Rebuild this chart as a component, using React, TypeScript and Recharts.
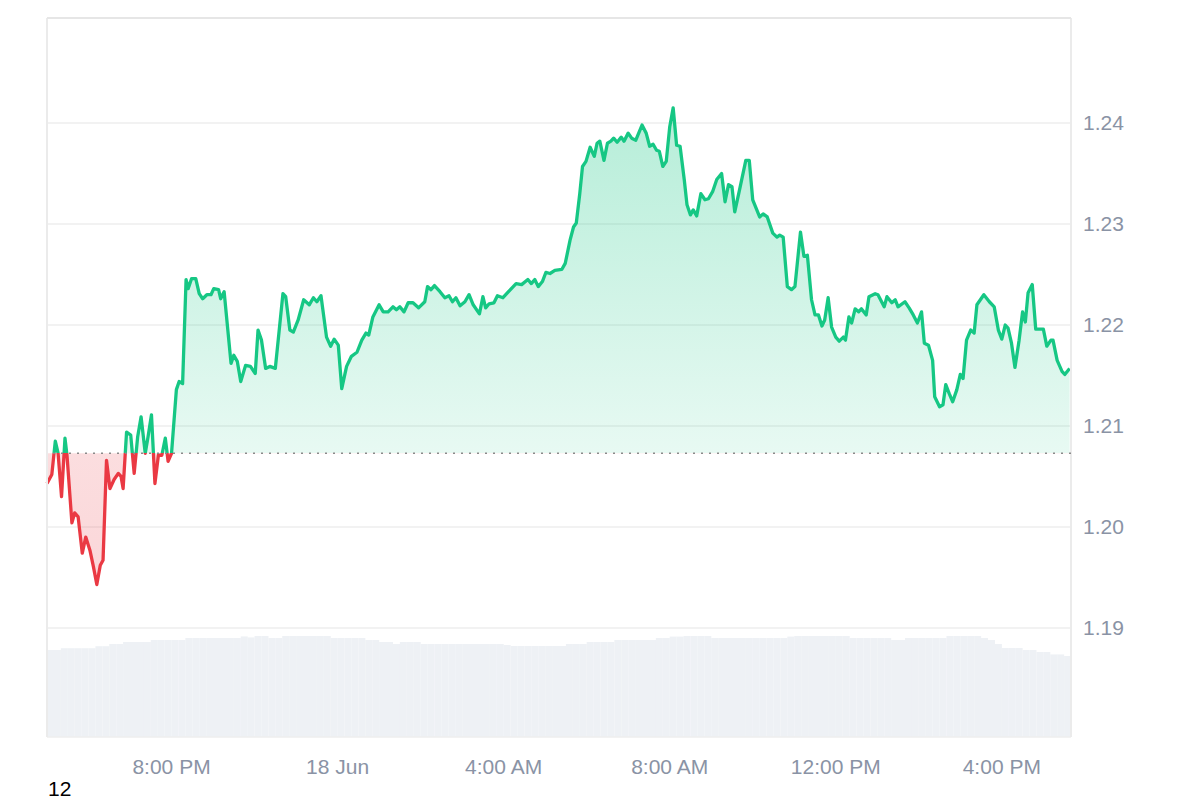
import React from 'react';
import { AreaChart, Area, BarChart, Bar, XAxis, YAxis, CartesianGrid, ReferenceLine } from 'recharts';

// minutes since 17:00 on 17 Jun
const times = [
  0, 7, 12, 16, 21, 26, 29, 36, 40, 45, 51, 56, 62, 67, 72, 77, 81, 86, 91, 97,
  103, 107, 110, 115, 121, 126, 131, 136, 142, 146, 151, 156, 161, 166, 171, 175, 180, 187, 191, 196,
  201, 204, 209, 215, 220, 225, 231, 237, 241, 248, 251, 256, 266, 270, 275, 280, 287, 294, 301, 305,
  310, 316, 322, 330, 341, 345, 351, 356, 363, 371, 379, 385, 390, 396, 404, 410, 415, 421, 426, 433,
  440, 448, 455, 461, 465, 471, 480, 486, 493, 500, 505, 510, 516, 522, 529, 537, 546, 550, 555, 560,
  568, 575, 581, 586, 591, 597, 604, 610, 616, 625, 630, 634, 639, 646, 651, 659, 667, 678, 686, 695,
  700, 705, 710, 716, 721, 727, 734, 744, 749, 756, 761, 765, 770, 774, 779, 785, 791, 795, 799, 805,
  810, 815, 819, 824, 830, 834, 840, 845, 851, 860, 866, 871, 876, 881, 885, 890, 895, 900, 905, 910,
  915, 921, 925, 930, 934, 939, 945, 951, 956, 962, 968, 975, 980, 985, 990, 994, 1001, 1010, 1015, 1020,
  1030, 1035, 1041, 1049, 1055, 1059, 1064, 1070, 1076, 1081, 1089, 1094, 1099, 1105, 1110, 1115, 1120, 1124, 1129, 1134,
  1140, 1145, 1151, 1154, 1159, 1163, 1168, 1173, 1177, 1184, 1188, 1197, 1201, 1210, 1214, 1221, 1226, 1230, 1240, 1246,
  1252, 1258, 1264, 1268, 1274, 1280, 1283, 1290, 1295, 1299, 1304, 1309, 1315, 1320, 1324, 1329, 1335, 1340, 1344, 1354,
  1362, 1369, 1375, 1380, 1385, 1389, 1394, 1399, 1405, 1410, 1414, 1418, 1424, 1429, 1440, 1445, 1451, 1454, 1460, 1467,
  1471, 1478,
];

const prices = [
  1.2043, 1.2052, 1.2085, 1.2073, 1.2030, 1.2088, 1.2070, 1.2004, 1.2014, 1.2010, 1.1974, 1.1990, 1.1977, 1.1961, 1.1943, 1.1962, 1.1967, 1.2066, 1.2038, 1.2047,
  1.2053, 1.2050, 1.2038, 1.2094, 1.2091, 1.2053, 1.2089, 1.2109, 1.2073, 1.2089, 1.2111, 1.2043, 1.2071, 1.2071, 1.2088, 1.2065, 1.2073, 1.2136, 1.2144, 1.2142,
  1.2245, 1.2236, 1.2246, 1.2246, 1.2231, 1.2226, 1.2230, 1.2230, 1.2236, 1.2235, 1.2226, 1.2233, 1.2162, 1.2170, 1.2164, 1.2144, 1.2160, 1.2159, 1.2152, 1.2195,
  1.2185, 1.2157, 1.2159, 1.2157, 1.2231, 1.2228, 1.2195, 1.2193, 1.2205, 1.2225, 1.2220, 1.2227, 1.2223, 1.2229, 1.2188, 1.2179, 1.2186, 1.2180, 1.2137, 1.2159,
  1.2169, 1.2173, 1.2185, 1.2192, 1.2190, 1.2208, 1.2220, 1.2213, 1.2213, 1.2218, 1.2215, 1.2218, 1.2213, 1.2222, 1.2222, 1.2217, 1.2223, 1.2238, 1.2235, 1.2239,
  1.2233, 1.2227, 1.2229, 1.2223, 1.2227, 1.2219, 1.2223, 1.2230, 1.2220, 1.2211, 1.2228, 1.2217, 1.2221, 1.2222, 1.2229, 1.2227, 1.2233, 1.2241, 1.2240, 1.2245,
  1.2241, 1.2245, 1.2238, 1.2243, 1.2252, 1.2251, 1.2254, 1.2255, 1.2261, 1.2284, 1.2297, 1.2301, 1.2330, 1.2357, 1.2362, 1.2376, 1.2367, 1.2380, 1.2382, 1.2363,
  1.2380, 1.2382, 1.2385, 1.2381, 1.2386, 1.2382, 1.2390, 1.2385, 1.2383, 1.2398, 1.2390, 1.2377, 1.2379, 1.2373, 1.2372, 1.2357, 1.2362, 1.2396, 1.2415, 1.2378,
  1.2377, 1.2344, 1.2319, 1.2309, 1.2314, 1.2308, 1.2330, 1.2324, 1.2325, 1.2332, 1.2344, 1.2350, 1.2322, 1.2339, 1.2337, 1.2312, 1.2334, 1.2363, 1.2363, 1.2324,
  1.2307, 1.2310, 1.2307, 1.2291, 1.2287, 1.2289, 1.2287, 1.2238, 1.2235, 1.2238, 1.2292, 1.2268, 1.2269, 1.2225, 1.2210, 1.2210, 1.2199, 1.2205, 1.2227, 1.2198,
  1.2188, 1.2184, 1.2188, 1.2185, 1.2208, 1.2202, 1.2216, 1.2213, 1.2216, 1.2210, 1.2228, 1.2231, 1.2230, 1.2218, 1.2228, 1.2222, 1.2225, 1.2218, 1.2223, 1.2217,
  1.2210, 1.2202, 1.2213, 1.2182, 1.2180, 1.2165, 1.2129, 1.2119, 1.2121, 1.2141, 1.2132, 1.2124, 1.2136, 1.2151, 1.2147, 1.2185, 1.2195, 1.2192, 1.2220, 1.2230,
  1.2223, 1.2218, 1.2195, 1.2186, 1.2200, 1.2197, 1.2182, 1.2158, 1.2185, 1.2213, 1.2203, 1.2232, 1.2240, 1.2196, 1.2196, 1.2179, 1.2185, 1.2185, 1.2165, 1.2154,
  1.2151, 1.2157,
];

// 10-minute volume slots, millions
const volumes = [
  43.5, 43.5, 44.4, 44.4, 44.4, 44.4, 44.4, 45.4, 45.4, 46.5, 46.5, 47.5, 47.5, 47.5, 47.5, 48.5, 48.5, 48.5, 48.5, 48.5,
  49.5, 49.5, 49.5, 49.5, 49.5, 49.5, 49.5, 49.5, 50.3, 49.8, 50.5, 50.5, 49.5, 49.5, 50.5, 50.5, 50.5, 50.5, 50.5, 50.5,
  50.5, 49.5, 49.5, 49.5, 49.5, 49.5, 48.5, 48.5, 47.5, 47.5, 46.5, 47.5, 47.5, 47.5, 46.5, 46.5, 46.5, 46.5, 46.5, 46.5,
  46.5, 46.5, 46.5, 46.5, 46.5, 46.5, 46, 45.5, 45.5, 45.5, 45.5, 45.5, 45.5, 45.5, 45.5, 46.5, 46.5, 46.5, 47.5, 47.5,
  47.5, 47.5, 48.5, 48.5, 48.5, 48.5, 48.5, 48.5, 49.5, 49.5, 50.2, 50.2, 50.5, 50.5, 50.5, 50.5, 49.5, 49.5, 49.5, 49.5,
  49.5, 49.5, 49.5, 49.5, 49.5, 49.5, 49.5, 50.2, 50.5, 50.5, 50.5, 50.5, 50.5, 50.5, 50.5, 50.5, 49.5, 49.5, 49.5, 49.5,
  49.5, 49.5, 48.5, 48.5, 49.5, 49.5, 49.5, 49.5, 49.5, 49.5, 50.5, 50.5, 50.5, 50.5, 50.5, 49.5, 48.5, 46.5, 44.5, 44.5,
  44.5, 43.5, 43.5, 42.5, 42.5, 41.3, 41.3, 40.5,
];

const openPrice = 1.2073;
const priceMin = 1.1792;
const priceMax = 1.2504;
const priceTicks = [1.19, 1.2, 1.21, 1.22, 1.23, 1.24];
const timeEnd = 1480;
const timeTicks = [180, 420, 660, 900, 1140, 1380];
const timeTickLabels = ['8:00 PM', '18 Jun', '4:00 AM', '8:00 AM', '12:00 PM', '4:00 PM'];
const volumeAxisMax = 359.5;

const W = 1200;
const H = 800;
const TOP = 18;
const LEFT = 47;
const RIGHT = 129;
const BOTTOM = 63;
const Y_AXIS_W = 80;
const X_AXIS_H = 40;

const GREEN = '#16c784';
const RED = '#ea3943';
const FONT = '"Liberation Sans", Arial, sans-serif';
const tickStyle = { fill: '#8a93a5', fontSize: 21, fontFamily: FONT };

const priceData = times.map((t, i) => ({ t, price: prices[i] }));
const volumeData = volumes.map((v, i) => ({ slot: i, volume: v }));

export default function App() {
  const baseOffset = (priceMax - openPrice) / (priceMax - priceMin);
  const plotBottom = H - BOTTOM;

  return (
    <div style={{ position: 'absolute', left: 0, top: 0, width: W, height: H, background: '#fff', fontFamily: FONT }}>
      <div style={{ position: 'absolute', left: 0, top: 0 }}>
        <BarChart width={W} height={H} data={volumeData} margin={{ top: TOP, left: LEFT, right: RIGHT, bottom: BOTTOM }} barCategoryGap={0}>
          <XAxis dataKey="slot" hide />
          <YAxis hide domain={[0, volumeAxisMax]} />
          <Bar dataKey="volume" fill="#eef1f5" isAnimationActive={false} />
        </BarChart>
      </div>
      <div style={{ position: 'absolute', left: 0, top: 0 }}>
        <AreaChart
          width={W}
          height={H}
          data={priceData}
          margin={{ top: TOP, left: LEFT, right: RIGHT - Y_AXIS_W, bottom: BOTTOM - X_AXIS_H }}
        >
          <defs>
            <linearGradient id="priceStroke" gradientUnits="userSpaceOnUse" x1="0" y1={TOP} x2="0" y2={plotBottom}>
              <stop offset={baseOffset} stopColor={GREEN} />
              <stop offset={baseOffset} stopColor={RED} />
            </linearGradient>
            <linearGradient id="priceFill" gradientUnits="userSpaceOnUse" x1="0" y1={TOP} x2="0" y2={plotBottom}>
              <stop offset={0} stopColor={GREEN} stopOpacity={0.37} />
              <stop offset={baseOffset} stopColor={GREEN} stopOpacity={0.1} />
              <stop offset={baseOffset} stopColor={RED} stopOpacity={0.17} />
              <stop offset={1} stopColor={RED} stopOpacity={0.24} />
            </linearGradient>
          </defs>
          <CartesianGrid vertical={false} stroke="#eeeeee" strokeWidth={1.5} />
          <XAxis
            type="number"
            dataKey="t"
            domain={[0, timeEnd]}
            ticks={timeTicks}
            tickFormatter={(v) => timeTickLabels[timeTicks.indexOf(v)] ?? ''}
            axisLine={false}
            tickLine={false}
            tickSize={0}
            tickMargin={22}
            height={X_AXIS_H}
            tick={tickStyle}
            interval={0}
          />
          <YAxis
            orientation="right"
            type="number"
            domain={[priceMin, priceMax]}
            ticks={priceTicks}
            tickFormatter={(v) => Number(v).toFixed(2)}
            axisLine={false}
            tickLine={false}
            tickSize={0}
            tickMargin={12}
            width={Y_AXIS_W}
            tick={tickStyle}
            interval={0}
          />
          <ReferenceLine x={0} stroke="#ebebeb" strokeWidth={2} />
          <ReferenceLine x={timeEnd} stroke="#ebebeb" strokeWidth={2} />
          <ReferenceLine y={priceMax} stroke="#e6e6e6" strokeWidth={2} />
          <Area
            type="linear"
            dataKey="price"
            baseValue={openPrice}
            stroke="url(#priceStroke)"
            strokeWidth={3.3}
            strokeLinejoin="round"
            fill="url(#priceFill)"
            fillOpacity={1}
            dot={false}
            activeDot={false}
            isAnimationActive={false}
          />
          <ReferenceLine y={openPrice} stroke="#8a8a8a" strokeWidth={1.5} strokeDasharray="2 6" />
        </AreaChart>
      </div>
      <div style={{ position: 'absolute', left: 48, top: 778, fontSize: 21, lineHeight: '21px', color: '#000' }}>12</div>
    </div>
  );
}
